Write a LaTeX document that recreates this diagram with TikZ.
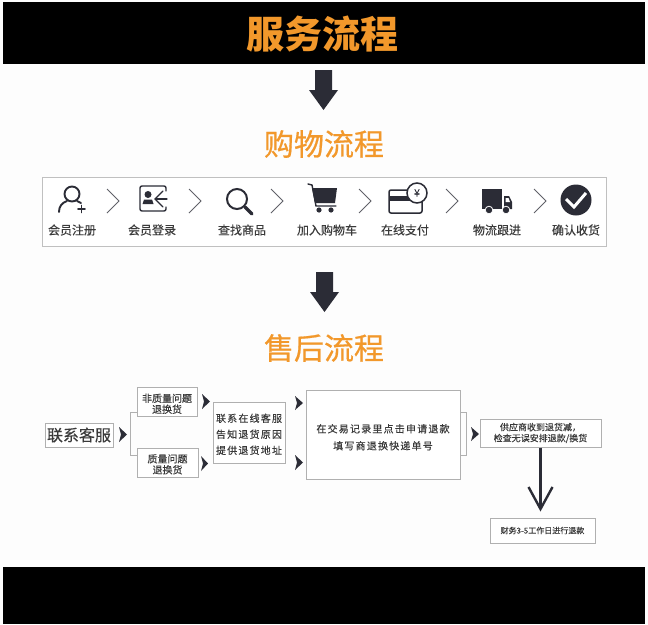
\documentclass[tikz,border=0pt]{standalone}
\usepackage{fontspec}
\setmainfont{Noto Sans CJK SC}
\newfontfamily\heavycjk{Noto Sans CJK SC}[FakeBold=0.6]
\newfontfamily\softcjk{Noto Sans CJK SC}[FakeBold=0.25]
\newfontfamily\widecjk{Noto Sans CJK SC}[LetterSpace=12,FakeBold=0.25]
\newcommand{\droptext}[1]{\rule{0pt}{#1}}
\usetikzlibrary{arrows.meta}
\definecolor{bgpaper}{HTML}{FDFDFD}
\definecolor{inkdark}{HTML}{2B2C36}
\definecolor{textgray}{HTML}{3A3A3A}
\definecolor{titleorange}{HTML}{F2982B}
\definecolor{framegray}{HTML}{B0B0B0}
\tikzset{
	titletext/.style={text=titleorange,inner sep=0pt},
	steptext/.style={text=textgray,inner sep=0pt,font=\softcjk\fontsize{12}{14}\selectfont},
	flowbox/.style={draw=framegray,line width=1pt,fill=white,text=textgray,inner sep=0pt,align=center},
	chevronline/.style={draw=inkdark!75,line width=1pt},
	linkline/.style={draw=framegray,line width=1pt},
	iconline/.style={draw=inkdark,line width=1.9pt,line cap=round},
	iconfill/.style={fill=inkdark},
	bigarrow/.style={fill=inkdark},
	minihead/.style={fill=inkdark}
}
\begin{document}
\begin{tikzpicture}[x=1pt,y=-1pt]
	\useasboundingbox (0,0) rectangle (648,624);
	% background and bands
	\fill[bgpaper] (0,0) rectangle (648,624);
	\fill[black] (3,2) rectangle (645,64);
	\fill[black] (3,567) rectangle (645,624);
	\node[titletext,font=\bfseries\fontsize{38}{40}\selectfont] (maintitle) at (322,34) {服务流程};
	\fill[bigarrow] (315,70) -- (332,70) -- (332,90) -- (338,90) -- (323.5,110) -- (309,90) -- (315,90) -- cycle;
	\node[titletext,font=\heavycjk\fontsize{30}{34}\selectfont] (shoptitle) at (324,144) {购物流程};
	% shopping steps
	\draw[draw=framegray!80,line width=1pt,fill=white] (42,177) rectangle (606,246);
	\node[steptext] (step1) at (72,230) {会员注册};
	\node[steptext] (step2) at (152,230) {会员登录};
	\node[steptext] (step3) at (242,230) {查找商品};
	\node[steptext] (step4) at (327,230) {加入购物车};
	\node[steptext] (step5) at (405,230) {在线支付};
	\node[steptext] (step6) at (497,230) {物流跟进};
	\node[steptext] (step7) at (576,230) {确认收货};
	\draw[chevronline] (107,189) -- (119,201) -- (107,213);
	\draw[chevronline] (189,189) -- (201,201) -- (189,213);
	\draw[chevronline] (271,189) -- (283,201) -- (271,213);
	\draw[chevronline] (359,189) -- (371,201) -- (359,213);
	\draw[chevronline] (446,189) -- (458,201) -- (446,213);
	\draw[chevronline] (534,189) -- (546,201) -- (534,213);
	% person
	\draw[iconline] (72,194) circle (7.5);
	\draw[iconline] (59,212) .. controls (59,206) and (62,203) .. (67,201);
	\draw[iconline] (77,201) -- (81,203);
	\draw[iconline] (78,209) -- (85,209);
	\draw[iconline] (81.5,205.5) -- (81.5,212.5);
	% login card
	\draw[iconline,line width=1.4pt,rounded corners=2pt] (166,191) -- (166,186) -- (140,186) -- (140,211) -- (166,211) -- (166,207);
	\fill[iconfill] (148,194.5) circle (3.5);
	\fill[iconfill] (142.5,204) -- (144,199.5) -- (152,199.5) -- (153.5,204) -- cycle;
	\draw[iconline,line width=1.2pt] (167,199) -- (156,199);
	\draw[iconline,line width=1.2pt] (163,191) -- (155,199) -- (163,207);
	% magnifier
	\draw[iconline,line width=2pt] (237,199) circle (10);
	\draw[iconline,line width=3.2pt] (245,207) -- (252,214);
	% cart
	\draw[iconline,line width=1.4pt] (308,184) -- (312,185) -- (316,206) -- (336,206);
	\fill[iconfill] (312,188) -- (337,188) -- (335,203) -- (315,203) -- cycle;
	\fill[iconfill] (319,210) circle (2.6);
	\fill[iconfill] (331,210) circle (2.6);
	% credit card
	\draw[iconline,line width=1.5pt,rounded corners=2pt] (389,190) rectangle (422,213);
	\fill[iconfill] (389,196) rectangle (410,201);
	\draw[iconline,fill=white,line width=1.5pt] (417,193) circle (10);
	\node[inner sep=0pt,text=inkdark,font=\softcjk\fontsize{10}{12}\selectfont] (yenmark) at (417,193) {¥};
	% truck
	\fill[iconfill] (482,189) rectangle (502,209);
	\fill[iconfill] (504,196) -- (509,196) -- (512,202) -- (512,209) -- (504,209) -- cycle;
	\fill[white] (505.5,198) -- (508.5,198) -- (510,202) -- (505.5,202) -- cycle;
	\draw[iconfill,draw=white,line width=0.8pt] (489,210) circle (3.8);
	\draw[iconfill,draw=white,line width=0.8pt] (506,210) circle (3.8);
	% check mark
	\fill[iconfill] (576,200) circle (15.5);
	\draw[draw=white,line width=3pt] (566,199) -- (574,207) -- (586,193);
	% second title
	\fill[bigarrow] (316,272) -- (333,272) -- (333,292) -- (339,292) -- (324.5,312) -- (310,292) -- (316,292) -- cycle;
	\node[titletext,font=\heavycjk\fontsize{30}{34}\selectfont] (aftertitle) at (324,348) {售后流程};
	% after-sales flow
	\node[flowbox,minimum width=68pt,minimum height=24pt,font=\softcjk\fontsize{16}{18}\selectfont] (contact) at (79,435) {联系客服};
	\node[flowbox,minimum width=60pt,minimum height=29pt,font=\softcjk\fontsize{10}{11}\selectfont] (nonquality) at (167,402) {\droptext{12pt}非质量问题\\退换货};
	\node[flowbox,minimum width=61pt,minimum height=29pt,font=\softcjk\fontsize{10}{11}\selectfont] (quality) at (167.5,462.5) {\droptext{12pt}质量问题\\退换货};
	\node[flowbox,minimum width=72pt,minimum height=61pt,font=\widecjk\fontsize{10}{16}\selectfont] (online) at (249,432.5) {\droptext{12pt}联系在线客服\\告知退货原因\\提供退货地址};
	\node[flowbox,minimum width=154pt,minimum height=89pt,font=\widecjk\fontsize{10}{17}\selectfont] (record) at (383,434.5) {\droptext{14pt}在交易记录里点击申请退款\\填写商退换快递单号};
	\node[flowbox,minimum width=121pt,minimum height=28pt,font=\softcjk\fontsize{9}{11}\selectfont] (supplier) at (540.5,433) {供应商收到退货减，\\检查无误安排退款/换货};
	\node[flowbox,minimum width=105pt,minimum height=25pt,font=\softcjk\fontsize{8}{10}\selectfont] (refund) at (542.5,530.5) {财务3-5工作日进行退款};
	% brackets
	\coordinate (lefttop) at (130,412);
	\coordinate (leftbot) at (130,455);
	\coordinate (righttop) at (466,412);
	\coordinate (rightbot) at (466,455);
	\draw[linkline] (nonquality.west |- lefttop) -- (lefttop) -- (leftbot) -- (quality.west |- leftbot);
	\draw[linkline] (record.east |- righttop) -- (righttop) -- (rightbot) -- (record.east |- rightbot);
	\draw[-{Straight Barb[length=22pt,width=24pt,line width=2.4pt]},draw=inkdark,line width=2.2pt,shorten >=6pt] (supplier.south) -- (supplier.south |- refund.north);
	% small heads
	\fill[minihead] (119,427) -- (127,434.5) -- (119,442) -- (121,434.5) -- cycle;
	\fill[minihead] (202,394) -- (210,401.5) -- (202,409) -- (204,401.5) -- cycle;
	\fill[minihead] (201,456) -- (208,463.5) -- (201,471) -- (203,463.5) -- cycle;
	\fill[minihead] (295,396) -- (303,403) -- (295,410) -- (297,403) -- cycle;
	\fill[minihead] (295,455) -- (303,462.5) -- (295,470) -- (297,462.5) -- cycle;
	\fill[minihead] (471,427) -- (479,434) -- (471,441) -- (473,434) -- cycle;
\end{tikzpicture}
\end{document}
